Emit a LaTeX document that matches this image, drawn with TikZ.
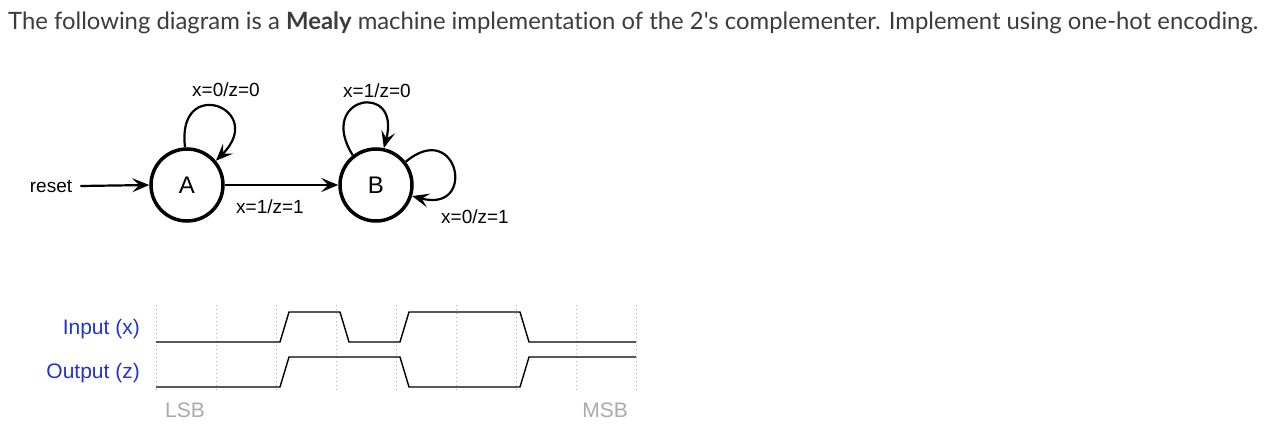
\documentclass[tikz,border=0pt]{standalone}
\usepackage{fontspec}
\setmainfont{Liberation Sans}
\newfontfamily\titlefont[Ligatures=NoCommon]{Lato}
\usetikzlibrary{arrows.meta}
\definecolor{lblue}{RGB}{34,51,204}
\definecolor{tgray}{RGB}{170,170,170}
\definecolor{ttext}{RGB}{60,60,60}
\begin{document}
\begin{tikzpicture}[x=1pt,y=1pt,
  state/.style={circle,draw,line width=3.5pt,minimum size=72pt,inner sep=0pt,font=\fontsize{24}{28}\selectfont},
  edge/.style={line width=2.2pt,-{Stealth[length=17pt,width=14pt,inset=7pt]}},
  lbl/.style={font=\fontsize{19}{22}\selectfont,inner sep=0pt},
  sig/.style={font=\fontsize{21}{24}\selectfont,inner sep=0pt,text=lblue},
  bit/.style={font=\fontsize{21}{24}\selectfont,inner sep=0pt,text=tgray},
  grid/.style={gray!60,line width=0.8pt,dash pattern=on 0.8pt off 3.2pt},
  wave/.style={line width=1.4pt,line join=miter}
]
\useasboundingbox (0,0) rectangle (1275,-428);
% title
\node[anchor=base west,inner sep=0pt,text=ttext] (title) at (8,-30)
  {\resizebox{1250pt}{!}{\titlefont\fontsize{22}{26}\selectfont The following diagram is a \textbf{Mealy} machine implementation of the 2's complementer. Implement using one-hot encoding.}};
% state diagram
\node[state] (A) at (187,-185) {A};
\node[state] (B) at (376,-185) {B};
\node[lbl] (reset) at (51,-186) {reset};
\draw[edge] (reset.east) ++(8,0) coordinate (rs) (rs) -- (A.west);
\draw[edge] (A.east) -- (B.west);
\node[lbl] (lab) at (270,-207) {x=1/z=1};
\draw[edge] (A.93) to[out=97,in=45,looseness=5.6] (A.40);
\node[lbl] (laa) at (226,-90) {x=0/z=0};
\draw[edge] (B.128) to[out=122,in=75,looseness=5.6] (B.78);
\node[lbl] (lbb1) at (377,-91) {x=1/z=0};
\draw[edge] (B.38) to[out=40,in=-15,looseness=5] (B.-17);
\node[lbl] (lbb0) at (475,-217) {x=0/z=1};
% timing diagram
\foreach \k in {0,...,8} {
  \draw[grid] (156+60*\k,-305) -- (156+60*\k,-392);
}
\draw[wave] (156,-342) -- (280,-342) -- (289,-312) -- (340,-312) -- (349,-342) -- (400,-342) -- (409,-312) -- (520,-312) -- (529,-342) -- (636,-342);
\draw[wave] (156,-387) -- (280,-387) -- (289,-357) -- (400,-357) -- (409,-387) -- (520,-387) -- (529,-357) -- (636,-357);
\node[sig,anchor=east] (inx) at (140,-329) {Input (x)};
\node[sig,anchor=east] (outz) at (140,-373) {Output (z)};
\node[bit,anchor=west] (lsb) at (165,-410) {LSB};
\node[bit,anchor=east] (msb) at (628,-410) {MSB};
\end{tikzpicture}
\end{document}
